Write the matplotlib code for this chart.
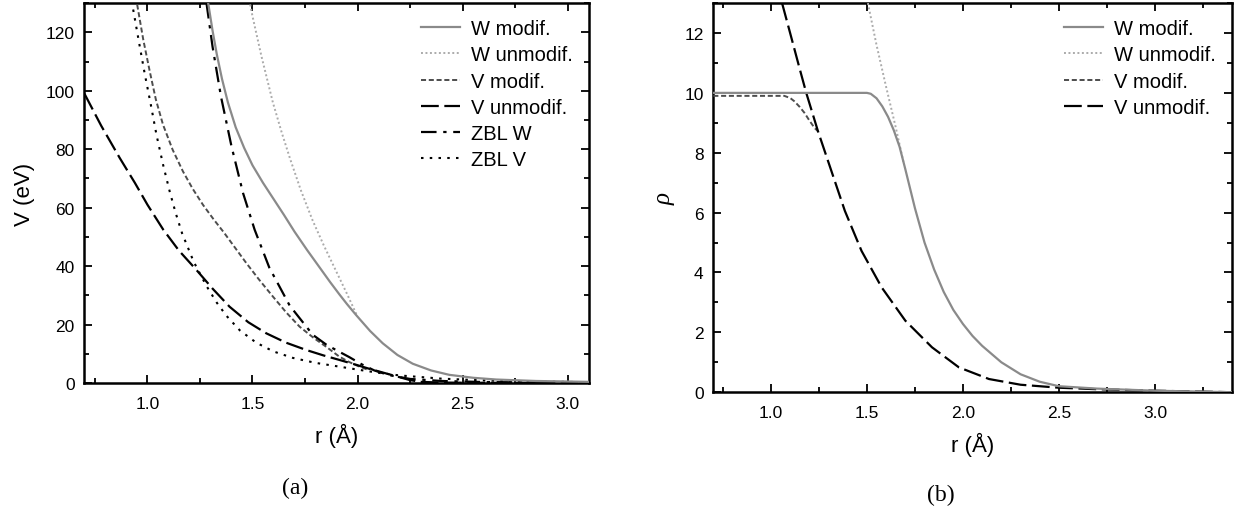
import matplotlib
matplotlib.use("Agg")
import matplotlib.pyplot as plt
from matplotlib.ticker import MultipleLocator, FormatStrFormatter

plt.rcParams['font.family'] = ['Liberation Sans', 'DejaVu Sans']

# ---- panel (a): pair potential V(r), eV ----
r_w_mod = [1.289, 1.31, 1.33, 1.355, 1.383, 1.42, 1.46, 1.50, 1.55, 1.60, 1.65, 1.70,
           1.76, 1.82, 1.87, 1.914, 1.95, 1.994, 2.06, 2.12, 2.19, 2.263, 2.35, 2.437,
           2.55, 2.66, 2.85, 3.1]
v_w_mod = [130, 120.5, 112.5, 104, 96, 87.5, 80.5, 74.5, 68.5, 63, 57.5, 51.8,
           45.5, 39.5, 34.5, 30.3, 27, 23.2, 17.8, 13.6, 9.6, 6.6, 4.3, 2.8,
           1.8, 1.2, 0.7, 0.4]

r_w_unmod = [1.485, 1.50, 1.542, 1.597, 1.64, 1.68, 1.73, 1.787, 1.84, 1.90, 1.95, 1.998]
v_w_unmod = [131, 125.5, 112, 96, 85.5, 76.5, 66, 55.5, 47, 38, 30.5, 23.0]

r_v_mod = [0.951, 0.98, 1.011, 1.04, 1.074, 1.12, 1.169, 1.215, 1.264, 1.315, 1.364, 1.42,
           1.471, 1.53, 1.597, 1.66, 1.724, 1.79, 1.851, 1.914, 1.96, 2.0, 2.05]
v_v_mod = [129.5, 117.5, 106.6, 97, 88.4, 79.8, 72.4, 66.5, 61, 56, 51.5, 46,
           41, 35.5, 29.6, 24.2, 19.3, 15.5, 12.4, 9.0, 7.2, 5.9, 4.5]

r_v_unmod = [0.7, 0.78, 0.868, 0.94, 1.0, 1.075, 1.15, 1.233, 1.31, 1.391, 1.48, 1.566,
             1.66, 1.756, 1.84, 1.914, 2.0, 2.05, 2.1, 2.15, 2.2, 2.25, 2.3, 2.4, 2.6,
             2.8, 3.1]
v_v_unmod = [99, 88, 77, 68.5, 61, 52.5, 45.3, 38.7, 32.3, 26.1, 20.8, 17,
             13.8, 11.3, 9.4, 7.9, 6.1, 5.0, 4.0, 3.0, 2.0, 1.0, 0.4, 0.15, 0.08,
             0.05, 0.0]

r_zbl_w = [1.281, 1.31, 1.35, 1.40, 1.455, 1.51, 1.58, 1.677, 1.787, 1.85, 1.9, 1.96,
           2.02, 2.08, 2.15, 2.25, 2.4, 2.6, 2.8, 3.1]
v_zbl_w = [130, 115, 98, 81, 65, 52.5, 39.5, 26.5, 16.5, 13.2, 11.2, 8.9,
           6.4, 4.3, 2.7, 1.4, 0.7, 0.35, 0.2, 0.1]

r_zbl_v = [0.932, 0.96, 0.987, 1.015, 1.043, 1.075, 1.106, 1.135, 1.165, 1.22, 1.281, 1.33,
           1.376, 1.44, 1.518, 1.6, 1.692, 1.8, 1.914, 2.0, 2.1, 2.2, 2.4, 2.6, 2.8, 3.1]
v_zbl_v = [127.8, 116.5, 105.8, 95.6, 84.9, 74.5, 65.5, 58, 51.2, 41.5, 33.2, 27.5,
           23.0, 18.0, 13.8, 10.8, 8.6, 6.9, 5.6, 4.6, 3.5, 2.6, 1.5, 0.9, 0.55, 0.3]

# ---- panel (b): electron density rho(r) ----
rr_w_mod = [0.7, 1.50, 1.52, 1.55, 1.58, 1.61, 1.64, 1.67, 1.70, 1.75, 1.80, 1.85, 1.90,
            1.95, 2.0, 2.05, 2.1, 2.2, 2.3, 2.4, 2.5, 2.7, 3.0, 3.4]
rho_w_mod = [10.0, 10.0, 9.97, 9.82, 9.55, 9.2, 8.75, 8.2, 7.45, 6.15, 5.0, 4.1, 3.35,
             2.75, 2.28, 1.88, 1.55, 1.0, 0.6, 0.35, 0.2, 0.12, 0.05, 0.0]

rr_w_unmod = [1.505, 1.55, 1.60, 1.65, 1.69]
rho_w_unmod = [13.0, 11.6, 10.2, 8.85, 7.7]

rr_v_mod = [0.7, 1.07, 1.10, 1.122, 1.15, 1.175, 1.2, 1.227, 1.245]
rho_v_mod = [9.9, 9.9, 9.83, 9.72, 9.53, 9.33, 9.08, 8.83, 8.72]

rr_v_unmod = [1.058, 1.1, 1.15, 1.184, 1.245, 1.315, 1.385, 1.472, 1.577, 1.70, 1.839,
              1.979, 2.136, 2.3, 2.5, 2.7, 3.0, 3.4]
rho_v_unmod = [13.0, 12.0, 10.8, 10.0, 8.72, 7.39, 6.06, 4.72, 3.5, 2.39, 1.5,
               0.83, 0.44, 0.25, 0.15, 0.1, 0.05, 0.0]

# line styles
st_w_mod = dict(color='#8a8a8a', lw=1.6, ls='-')
st_w_unmod = dict(color='#ababab', lw=1.4, ls=(0, (1, 1.3)))
st_v_mod = dict(color='#4d4d4d', lw=1.4, ls=(0, (2.6, 1.4)))
st_v_unmod = dict(color='black', lw=1.6, ls=(0, (8, 2.5)))
st_zbl_w = dict(color='black', lw=1.6, ls=(0, (7, 3, 1.5, 3)))
st_zbl_v = dict(color='black', lw=1.5, ls=(0, (1.2, 3)))

fig = plt.figure(figsize=(12.51, 5.10), dpi=100)
ax1 = fig.add_axes([0.0675, 0.247, 0.403, 0.745])
ax2 = fig.add_axes([0.5702, 0.229, 0.4144, 0.763])

ax1.plot(r_w_mod, v_w_mod, label='W modif.', zorder=4, **st_w_mod)
ax1.plot(r_w_unmod, v_w_unmod, label='W unmodif.', zorder=3, **st_w_unmod)
ax1.plot(r_v_mod, v_v_mod, label='V modif.', zorder=3, **st_v_mod)
ax1.plot(r_v_unmod, v_v_unmod, label='V unmodif.', zorder=3, **st_v_unmod)
ax1.plot(r_zbl_w, v_zbl_w, label='ZBL W', zorder=3, **st_zbl_w)
ax1.plot(r_zbl_v, v_zbl_v, label='ZBL V', zorder=3, **st_zbl_v)

ax2.plot(rr_w_mod, rho_w_mod, label='W modif.', zorder=4, **st_w_mod)
ax2.plot(rr_w_unmod, rho_w_unmod, label='W unmodif.', zorder=3, **st_w_unmod)
ax2.plot(rr_v_mod, rho_v_mod, label='V modif.', zorder=3, **st_v_mod)
ax2.plot(rr_v_unmod, rho_v_unmod, label='V unmodif.', zorder=3, **st_v_unmod)

ax1.set_xlim(0.7, 3.1)
ax1.set_ylim(0, 130)
ax1.yaxis.set_major_locator(MultipleLocator(20))
ax1.yaxis.set_minor_locator(MultipleLocator(10))
ax2.set_xlim(0.7, 3.4)
ax2.set_ylim(0, 13)
ax2.yaxis.set_major_locator(MultipleLocator(2))
ax2.yaxis.set_minor_locator(MultipleLocator(1))

for ax in (ax1, ax2):
    ax.xaxis.set_major_locator(MultipleLocator(0.5))
    ax.xaxis.set_minor_locator(MultipleLocator(0.25))
    ax.xaxis.set_major_formatter(FormatStrFormatter('%.1f'))
    ax.tick_params(which='both', direction='in', top=True, right=True,
                   labelsize=12.5, width=1.3, colors='black')
    ax.tick_params(which='major', length=6)
    ax.tick_params(axis='x', which='major', pad=9)
    ax.tick_params(axis='y', which='major', pad=7)
    ax.tick_params(which='minor', length=3.5)
    for s in ax.spines.values():
        s.set_linewidth(1.8)
    ax.set_xlabel('r (Å)', fontsize=16, labelpad=9)
    ax.legend(loc='upper right', bbox_to_anchor=(1.0, 1.0), frameon=False, fontsize=14.5,
              handlelength=1.9, handletextpad=0.55, labelspacing=0.36,
              borderaxespad=0.45, borderpad=0.35)

ax1.set_ylabel('V (eV)', fontsize=16, labelpad=8)
ax2.set_ylabel('ρ', fontsize=18, family='Liberation Serif', style='italic', labelpad=6)

fig.text(0.2357, 0.043, '(a)', ha='center', va='center', fontsize=17,
         family='Liberation Serif')
fig.text(0.7517, 0.028, '(b)', ha='center', va='center', fontsize=17,
         family='Liberation Serif')

fig.savefig('out.png', dpi=100)
